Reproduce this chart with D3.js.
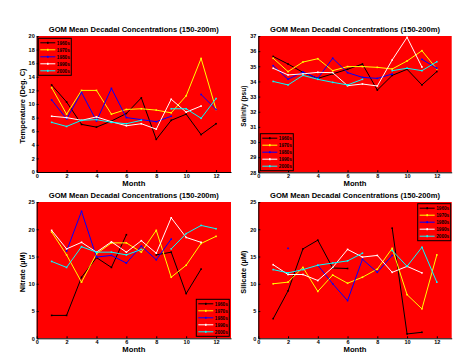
<!DOCTYPE html>
<html><head><meta charset="utf-8">
<script src="https://cdn.jsdelivr.net/npm/d3@7"></script>
<style>body{margin:0;background:#fff}svg{display:block}text{font-family:"Liberation Sans",Arial,sans-serif;font-weight:bold}</style>
</head><body>
<script>
const months = [1,2,3,4,5,6,7,8,9,10,11,12];
const decades = ["1960s","1970s","1980s","1990s","2000s"];
const titleText = "GOM Mean Decadal Concentrations (150-200m)";

// Temperature (Deg. C)
const temp1960s = [12.8,10.3,7.0,6.6,7.5,8.6,10.9,4.8,7.6,8.5,5.5,7.1];
const temp1970s = [12.4,8.5,12.0,12.0,8.5,9.2,9.3,9.1,8.7,11.2,16.7,9.2];
const temp1980s = [10.6,7.8,11.7,7.5,12.3,8.0,7.7,7.4,8.2,null,11.4,9.2];
const temp1990s = [8.2,8.0,7.6,8.1,7.4,6.8,7.1,6.3,10.7,8.8,9.7,null];
const temp2000s = [7.3,6.7,7.6,7.7,7.3,7.1,7.6,null,9.3,9.3,7.9,10.8];
const tempTicks = [0,2,4,6,8,10,12,14,16,18,20];

// Salinity (psu)
const sal1960s = [35.65,35.15,34.6,34.2,34.5,34.8,35.15,33.43,34.4,34.8,33.77,34.65];
const sal1970s = [35.53,34.65,35.28,35.5,34.71,34.98,34.98,34.93,34.82,35.35,36.03,34.82];
const sal1980s = [35.04,34.14,34.62,34.2,35.53,34.58,34.27,34.2,34.49,null,35.46,34.87];
const sal1990s = [34.87,34.43,34.5,34.6,34.58,33.72,33.83,33.7,35.42,36.91,34.95,null];
const sal2000s = [34.0,33.77,34.4,34.14,33.94,33.77,34.14,null,34.71,34.87,34.71,35.3];
const salTicks = [28,29,30,31,32,33,34,35,36,37];

// Nitrate (uM)
const nit1960s = [4.2,4.2,11.2,14.8,13.0,19.0,null,15.3,15.8,8.2,12.7,null];
const nit1970s = [19.5,15.3,10.3,15.5,17.5,17.5,15.8,19.8,11.2,13.4,17.4,18.7];
const nit1980s = [null,16.0,23.3,14.9,15.2,13.8,16.9,14.4,18.2,null,null,null];
const nit1990s = [19.8,16.4,17.6,15.8,17.7,15.8,17.9,15.6,22.1,18.5,17.6,null];
const nit2000s = [14.1,13.0,16.8,15.8,15.8,15.3,16.3,null,16.4,19.2,20.7,20.1];
const nitTicks = [0,5,10,15,20,25];

// Silicate (uM)
const sil1960s = [3.6,8.7,16.4,18.0,12.9,12.8,null,null,20.2,0.8,1.1,null];
const sil1970s = [10.0,10.3,13.0,8.6,11.6,10.1,11.2,12.7,16.5,8.0,5.4,15.3];
const sil1980s = [null,16.5,null,13.4,10.0,6.9,14.5,12.1,15.2,null,null,null];
const sil1990s = [13.5,11.7,11.7,10.6,13.0,16.3,14.9,15.2,12.1,13.2,12.0,null];
const sil2000s = [12.6,12.0,12.6,13.4,13.8,14.2,15.6,null,16.1,13.2,16.7,10.3];
const silTicks = [0,5,10,15,20,25];

const monthTicks = [0,2,4,6,8,10,12];

const colors = ["#000000","#ffff00","#0000ff","#ffffff","#00ffff"];

const panels = [
  {ylab:"Temperature (Deg. C)", series:[temp1960s,temp1970s,temp1980s,temp1990s,temp2000s], ticks:tempTicks,
   x0:36.7,x1:231,y0:36,y1:172, ylx:22, ylLen:75, legend:"tl"},
  {ylab:"Salinity (psu)", series:[sal1960s,sal1970s,sal1980s,sal1990s,sal2000s], ticks:salTicks,
   x0:258.3,x1:451.7,y0:36,y1:172.3, ylx:243.5, ylLen:41, legend:"bl"},
  {ylab:"Nitrate (µM)", series:[nit1960s,nit1970s,nit1980s,nit1990s,nit2000s], ticks:nitTicks,
   x0:36.7,x1:231,y0:202,y1:338.3, ylx:22, ylLen:40, legend:"br"},
  {ylab:"Silicate (µM)", series:[sil1960s,sil1970s,sil1980s,sil1990s,sil2000s], ticks:silTicks,
   x0:258.3,x1:451.7,y0:202,y1:338.3, ylx:243.5, ylLen:43, legend:"tr"}
];

const svg = d3.select("body").append("svg").attr("width",475).attr("height",356);

panels.forEach(p => {
  const x = d3.scaleLinear().domain([0,13]).range([p.x0,p.x1]);
  const y = d3.scaleLinear().domain([p.ticks[0], p.ticks[p.ticks.length-1]]).range([p.y1,p.y0]);
  const g = svg.append("g");
  g.append("rect").attr("x",p.x0).attr("y",p.y0).attr("width",p.x1-p.x0).attr("height",p.y1-p.y0).attr("fill","#ff0000");

  // axes
  const xa = g.append("g").attr("transform",`translate(0,${p.y1})`)
    .call(d3.axisBottom(x).tickValues(monthTicks).tickSizeInner(-2).tickSizeOuter(0).tickPadding(2));
  const ya = g.append("g").attr("transform",`translate(${p.x0},0)`)
    .call(d3.axisLeft(y).tickValues(p.ticks).tickSizeInner(-2).tickSizeOuter(0).tickPadding(2));
  [xa,ya].forEach(a=>{
    a.selectAll("path").attr("stroke","#000").attr("stroke-width",1);
    a.selectAll("line").attr("stroke","#000");
    a.selectAll("text").attr("font-size",5.5).attr("fill","#000").attr("font-family","Liberation Sans, Arial").attr("font-weight","bold");
  });

  // title
  g.append("text").attr("x",(p.x0+p.x1)/2).attr("y",p.y0-4).attr("text-anchor","middle")
    .attr("font-size",8).attr("textLength",170).attr("lengthAdjust","spacingAndGlyphs").text(titleText);
  // x label
  g.append("text").attr("x",(p.x0+p.x1)/2).attr("y",p.y1+14).attr("text-anchor","middle")
    .attr("font-size",7.5).attr("textLength",23).attr("lengthAdjust","spacingAndGlyphs").text("Month");
  // y label
  const cy = (p.y0+p.y1)/2 + 2;
  g.append("text").attr("transform",`translate(${p.ylx},${cy}) rotate(-90)`).attr("text-anchor","middle")
    .attr("dy","0.35em").attr("font-size",7.5).attr("textLength",p.ylLen).attr("lengthAdjust","spacingAndGlyphs").text(p.ylab);

  // lines
  const line = d3.line().defined(d=>d[1]!=null).x(d=>x(d[0])).y(d=>y(d[1]));
  p.series.forEach((s,i)=>{
    const pts = months.map((m,k)=>[m,s[k]]);
    g.append("path").attr("d",line(pts)).attr("fill","none").attr("stroke",colors[i]).attr("stroke-width",1);
    g.selectAll(null).data(pts.filter(d=>d[1]!=null)).enter().append("rect")
      .attr("x",d=>x(d[0])-0.8).attr("y",d=>y(d[1])-0.8).attr("width",1.6).attr("height",1.6).attr("fill",colors[i]);
  });

  // legend
  const lw = 33, lh = 37;
  let lx, ly;
  if (p.legend==="tl"){lx=p.x0+1.6; ly=p.y0+2.3;}
  else if (p.legend==="bl"){lx=p.x0+2; ly=p.y1-lh-1.6;}
  else if (p.legend==="br"){lx=p.x1-lw-1.7; ly=p.y1-lh-2;}
  else {lx=p.x1-lw-1; ly=p.y0+1.7;}
  const lg = g.append("g").attr("transform",`translate(${lx},${ly})`);
  lg.append("rect").attr("x",0).attr("y",0).attr("width",lw).attr("height",lh).attr("fill","#ff0000").attr("stroke","#000").attr("stroke-width",1);
  decades.forEach((d,i)=>{
    const yy = 4.5 + i*7;
    lg.append("line").attr("x1",2).attr("x2",17).attr("y1",yy).attr("y2",yy).attr("stroke",colors[i]).attr("stroke-width",1);
    lg.append("rect").attr("x",8.7).attr("y",yy-1).attr("width",1.6).attr("height",2).attr("fill",colors[i]);
    lg.append("text").attr("x",18.5).attr("y",yy).attr("dy","0.35em").attr("font-size",5)
      .attr("textLength",13).attr("lengthAdjust","spacingAndGlyphs").attr("fill","#000").text(d);
  });
});
</script>
</body></html>
